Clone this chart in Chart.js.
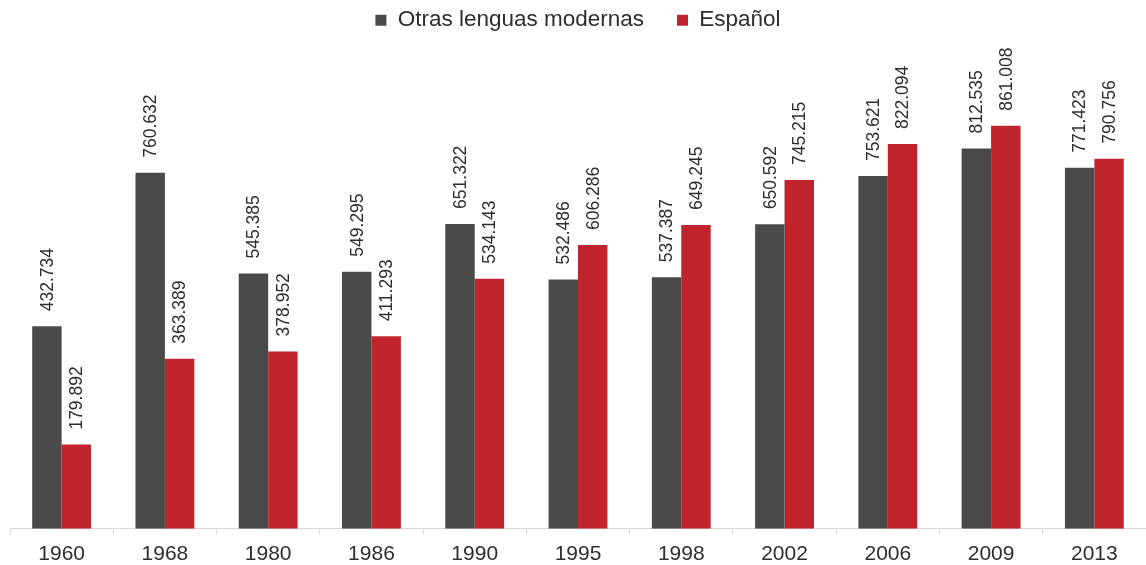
<!DOCTYPE html>
<html>
<head>
<meta charset="utf-8">
<script src="https://cdn.jsdelivr.net/npm/chart.js@4.4.1/dist/chart.umd.min.js"></script>
<style>
  html, body { margin: 0; padding: 0; background: #fff; }
  #wrap { width: 1146px; height: 565px; }
</style>
</head>
<body>
<div id="wrap"><canvas id="myChart" width="1146" height="565"></canvas></div>
<script>
const years = ["1960", "1968", "1980", "1986", "1990", "1995", "1998", "2002", "2006", "2009", "2013"];
const otrasLenguas = [432734, 760632, 545385, 549295, 651322, 532486, 537387, 650592, 753621, 812535, 771423];
const espanol = [179892, 363389, 378952, 411293, 534143, 606286, 649245, 745215, 822094, 861008, 790756];

// formato con punto de miles, ej. 432.734
function fmt(v) {
    return v.toString().replace(/\B(?=(\d{3})+(?!\d))/g, ".");
}

// etiquetas giradas encima de cada barra
const barLabels = {
    id: "barLabels",
    afterDatasetsDraw(chart) {
        const ctx = chart.ctx;
        ctx.save();
        ctx.fillStyle = "#2e2e2e";
        ctx.font = "17.5px 'Liberation Sans', Arial, sans-serif";
        ctx.textAlign = "left";
        ctx.textBaseline = "middle";
        chart.data.datasets.forEach((ds, i) => {
            const meta = chart.getDatasetMeta(i);
            meta.data.forEach((bar, j) => {
                ctx.save();
                ctx.translate(bar.x + 1, bar.y - 15);
                ctx.rotate(-Math.PI / 2);
                ctx.fillText(fmt(ds.data[j]), 0, 0);
                ctx.restore();
            });
        });
        ctx.restore();
    }
};

const ctx = document.getElementById("myChart").getContext("2d");
const config = {
    type: "bar",
    data: {
        labels: years,
        datasets: [
            {
                label: "Otras lenguas modernas",
                data: otrasLenguas,
                backgroundColor: "#4a4a4a",
                categoryPercentage: 0.57,
                barPercentage: 1.0
            },
            {
                label: "Español",
                data: espanol,
                backgroundColor: "#c0242d",
                categoryPercentage: 0.57,
                barPercentage: 1.0
            }
        ]
    },
    options: {
        responsive: false,
        animation: false,
        layout: {
            padding: { left: 10, right: 0, top: -24, bottom: -10 }
        },
        plugins: {
            tooltip: { enabled: false },
            legend: {
                position: "top",
                labels: {
                    boxWidth: 11,
                    boxHeight: 11,
                    padding: 33,
                    color: "#2e2e2e",
                    font: { family: "'Liberation Sans', Arial, sans-serif", size: 22.5 }
                }
            }
        },
        scales: {
            x: {
                grid: {
                    offset: true,
                    drawOnChartArea: false,
                    drawTicks: true,
                    tickLength: 5,
                    color: "#d9d9d9"
                },
                border: { display: true, color: "#d9d9d9" },
                ticks: {
                    color: "#2e2e2e",
                    padding: 8,
                    font: { family: "'Liberation Sans', Arial, sans-serif", size: 21 }
                }
            },
            y: {
                display: false,
                beginAtZero: true,
                min: 0,
                max: 1041000
            }
        }
    },
    plugins: [barLabels]
};
let myChart = new Chart(ctx, config);
</script>
</body>
</html>
